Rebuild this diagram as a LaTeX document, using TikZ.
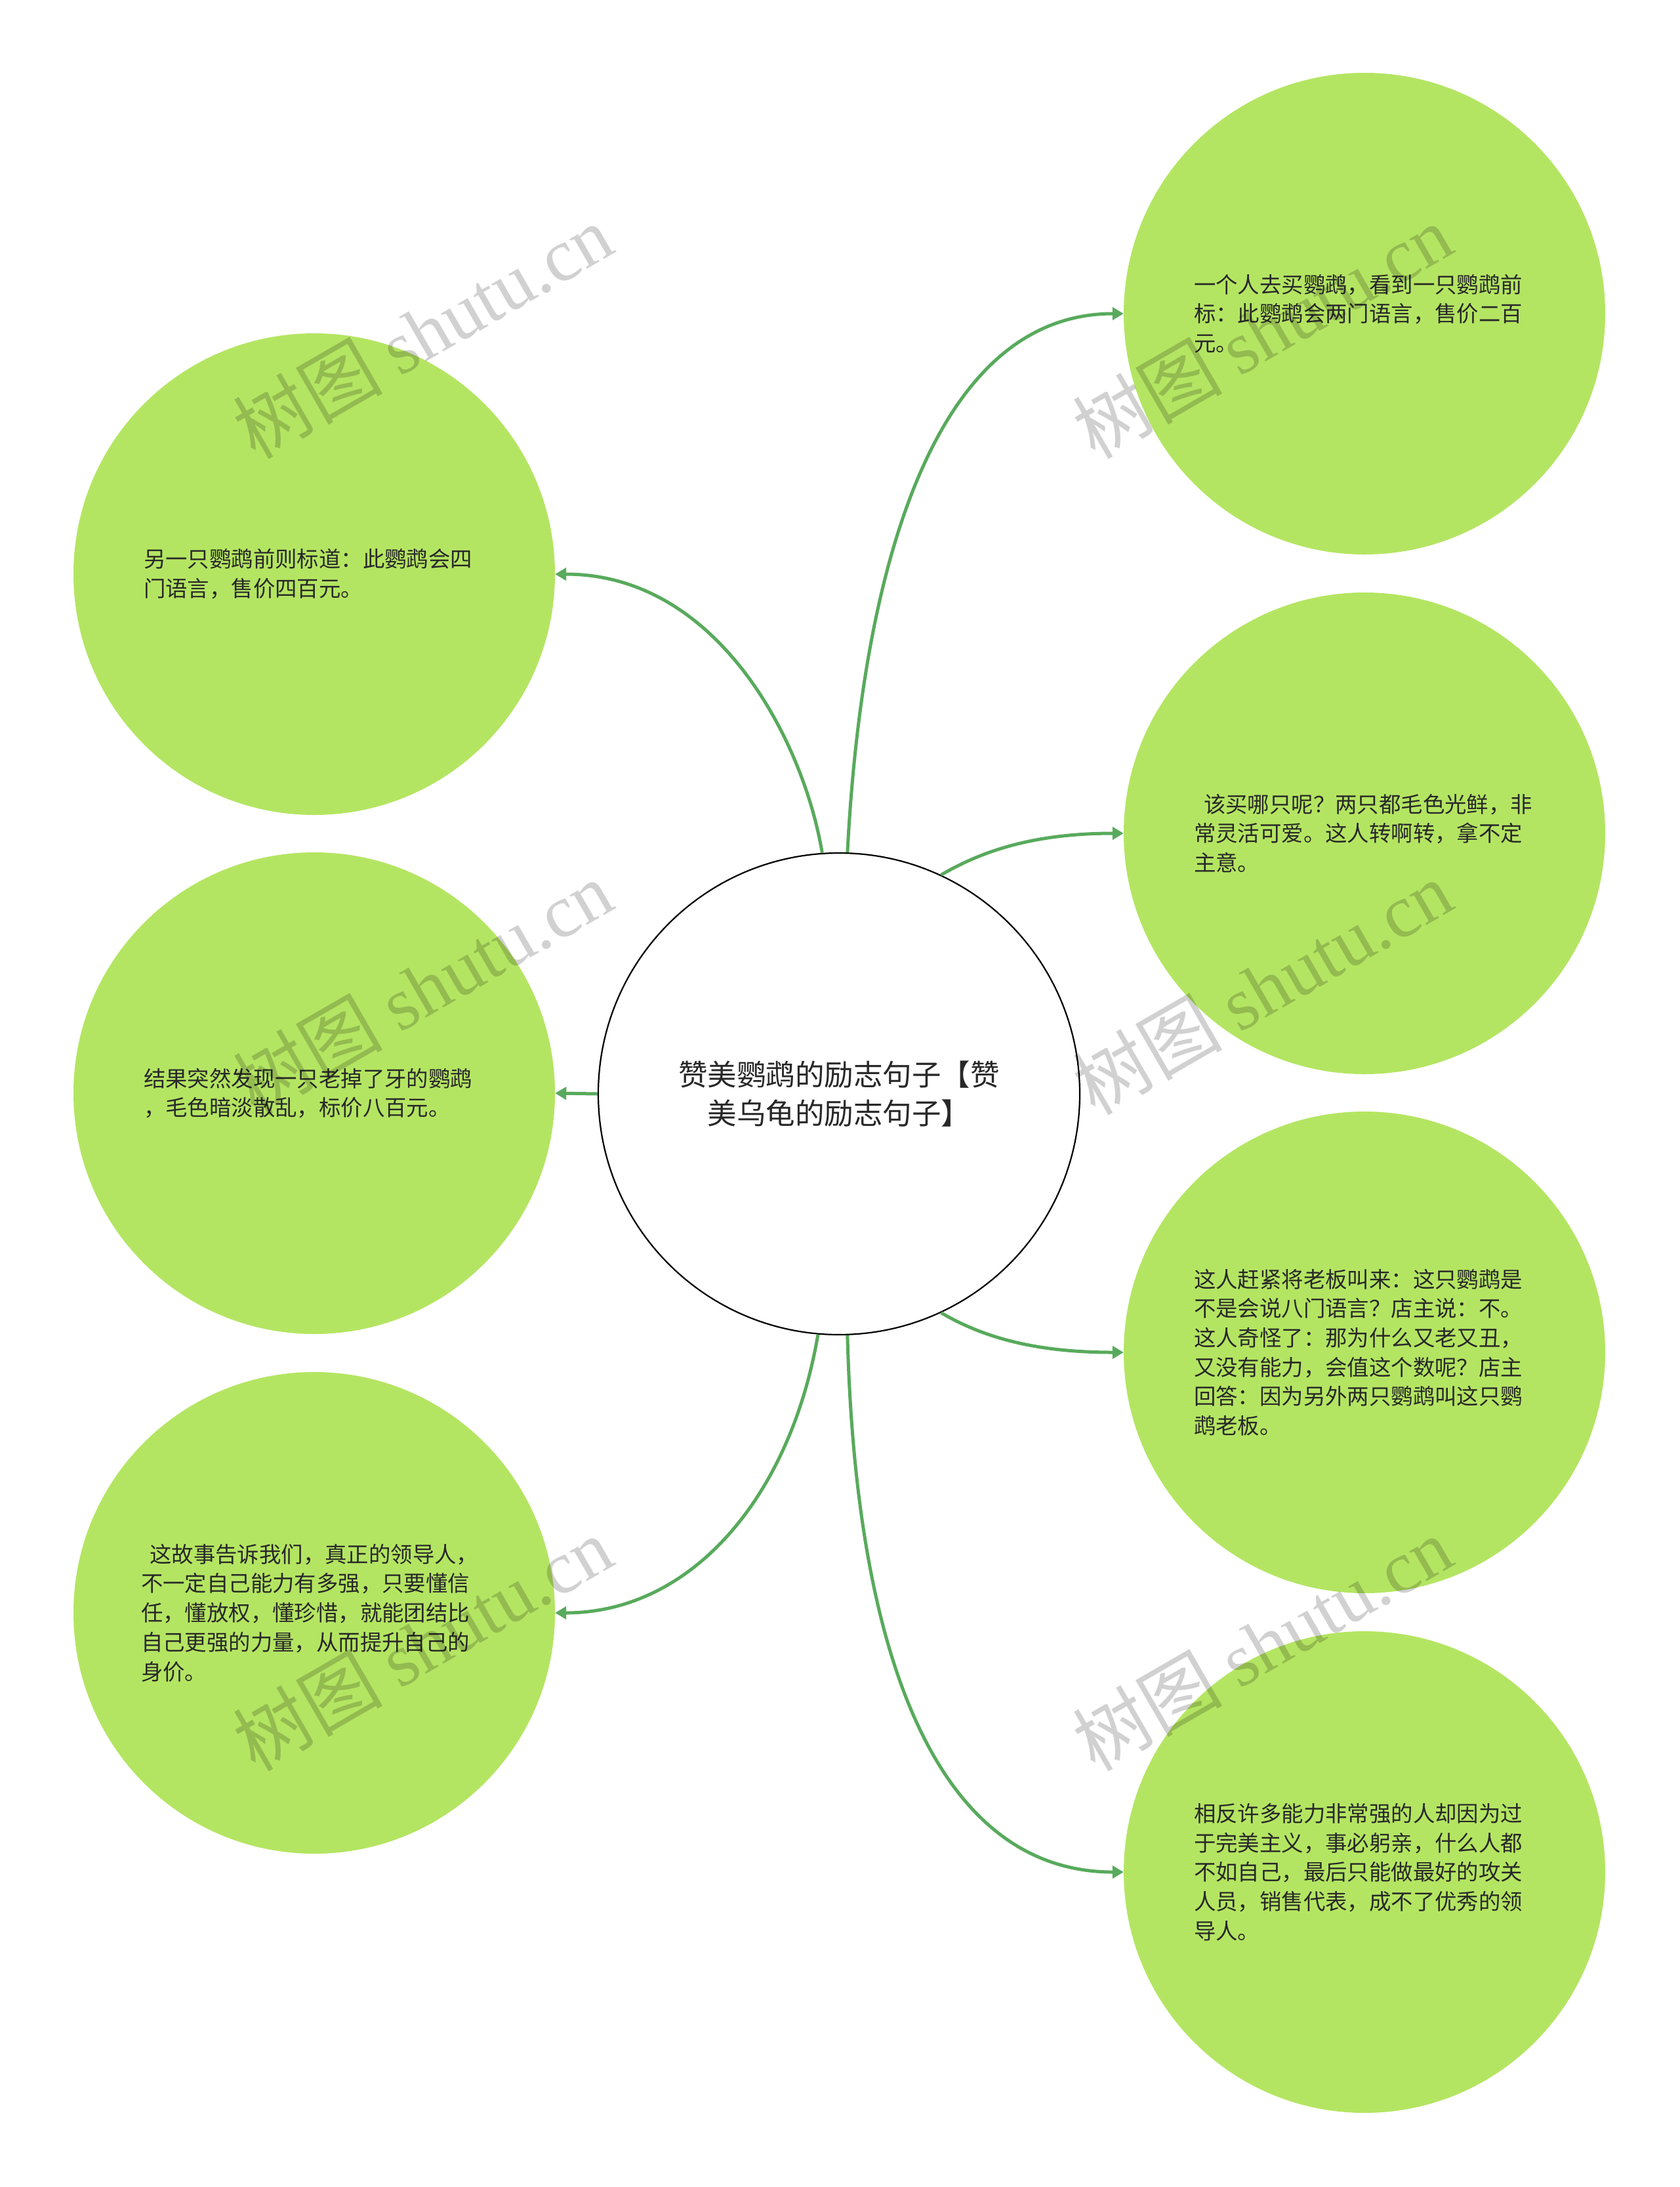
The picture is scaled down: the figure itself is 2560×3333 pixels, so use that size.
\documentclass[tikz,border=0pt]{standalone}
\usepackage{fontspec}
\setmainfont{Noto Sans CJK SC}
\newfontfamily\wmlatin{Liberation Serif}
\usetikzlibrary{arrows.meta}
\definecolor{leafgreen}{RGB}{180,229,98}
\definecolor{linkgreen}{RGB}{88,170,92}
\definecolor{txt}{RGB}{40,40,40}
\begin{document}
\begin{tikzpicture}[x=1pt,y=-1pt,
  leaf/.style={circle, fill=leafgreen, minimum size=734pt, inner sep=0pt},
  root/.style={circle, draw=black, line width=2.2pt, fill=white, minimum size=734pt, inner sep=0pt, align=center, text=txt, font=\fontsize{44.5}{59.5}\selectfont},
  leaftext/.style={anchor=west, inner sep=0pt, text width=520pt, align=left, text=txt, font=\fontsize{33.4}{44.7}\selectfont},
  conn/.style={draw=linkgreen, line width=5pt, -{Triangle[length=17pt,width=19pt]}},
  wm/.style={rotate=30, inner sep=0pt, text=black, text opacity=0.18, font=\fontsize{114}{114}\selectfont}
]
\useasboundingbox (0,0) rectangle (2560,3333);
\fill[white] (0,0) rectangle (2560,3333);

% nodes
\node[root] (c) at (1279,1667) {赞美鹦鹉的励志句子【赞\\美乌龟的励志句子】};

\node[leaf] (r1) at (2080,478) {};
\node[leaf] (r2) at (2080,1270) {};
\node[leaf] (r3) at (2080,2061) {};
\node[leaf] (r4) at (2080,2853) {};
\node[leaf] (l1) at (479,875) {};
\node[leaf] (l2) at (479,1666) {};
\node[leaf] (l3) at (479,2458) {};

\node[leaftext] (r1t) at ([xshift=107pt]r1.west) {一个人去买鹦鹉，看到一只鹦鹉前\\标：此鹦鹉会两门语言，售价二百\\元。};
\node[leaftext] (r2t) at ([xshift=107pt]r2.west) {\hspace*{0.45em}该买哪只呢？两只都毛色光鲜，非\\常灵活可爱。这人转啊转，拿不定\\主意。};
\node[leaftext] (r3t) at ([xshift=107pt]r3.west) {这人赶紧将老板叫来：这只鹦鹉是\\不是会说八门语言？店主说：不。\\这人奇怪了：那为什么又老又丑，\\又没有能力，会值这个数呢？店主\\回答：因为另外两只鹦鹉叫这只鹦\\鹉老板。};
\node[leaftext] (r4t) at ([xshift=107pt]r4.west) {相反许多能力非常强的人却因为过\\于完美主义，事必躬亲，什么人都\\不如自己，最后只能做最好的攻关\\人员，销售代表，成不了优秀的领\\导人。};
\node[leaftext] (l1t) at ([xshift=107pt]l1.west) {另一只鹦鹉前则标道：此鹦鹉会四\\门语言，售价四百元。};
\node[leaftext] (l2t) at ([xshift=107pt]l2.west) {结果突然发现一只老掉了牙的鹦鹉\\，毛色暗淡散乱，标价八百元。};
\node[leaftext] (l3t) at ([xshift=103pt]l3.west) {\hspace*{0.4em}这故事告诉我们，真正的领导人，\\不一定自己能力有多强，只要懂信\\任，懂放权，懂珍惜，就能团结比\\自己更强的力量，从而提升自己的\\身价。};

% connectors
\draw[conn] (c.88) .. controls (1315,850) and (1430,478) .. (r1.west);
\draw[conn] (c.65.2) .. controls (1500,1295) and (1580,1270) .. (r2.west);
\draw[conn] (c.-65.2) .. controls (1500,2039) and (1580,2061) .. (r3.west);
\draw[conn] (c.-88) .. controls (1305,2550) and (1440,2853) .. (r4.west);
\draw[conn] (c.94.5) .. controls (1225,1130) and (1095,875) .. (l1.east);
\draw[conn] (c.west) -- (l2.east);
\draw[conn] (c.265.5) .. controls (1205,2280) and (1055,2458) .. (l3.east);

% watermarks
\node[wm] (wm1) at (644,505) {树图 {\wmlatin shutu.cn}};
\node[wm] (wm2) at (644,1505) {树图 {\wmlatin shutu.cn}};
\node[wm] (wm3) at (644,2505) {树图 {\wmlatin shutu.cn}};
\node[wm] (wm4) at (1924,505) {树图 {\wmlatin shutu.cn}};
\node[wm] (wm5) at (1924,1505) {树图 {\wmlatin shutu.cn}};
\node[wm] (wm6) at (1924,2505) {树图 {\wmlatin shutu.cn}};
\end{tikzpicture}
\end{document}
